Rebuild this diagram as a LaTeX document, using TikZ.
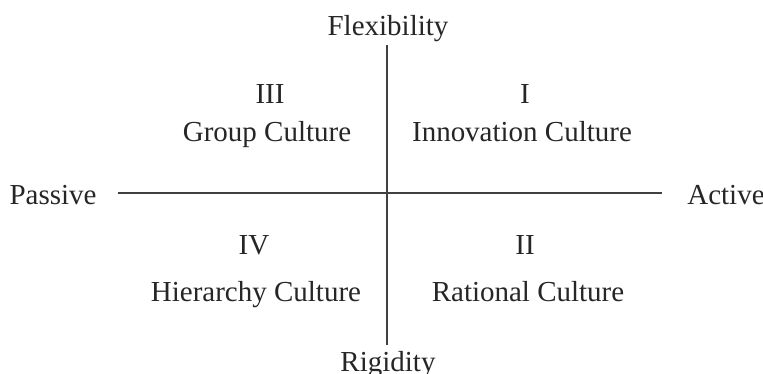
\documentclass[tikz,border=0pt]{standalone}
\usepackage{fontspec}
\setmainfont{Liberation Serif}
\begin{document}
\begin{tikzpicture}[x=0.02cm,y=-0.02cm,
                    lblND/.style={anchor=base,
                                  inner sep=0pt,
                                  text=black!85,
                                  font=\fontsize{16.5}{20}\selectfont},
                    axis/.style={draw=black!75,
                                 line width=0.6pt}]
            \useasboundingbox (0,0) rectangle (763,374);
            \node[lblND](flex) at (388,36)  {Flexibility};
            \node[lblND](rigid) at (388,372) {Rigidity};
            \node[lblND](pass) at (53,205)  {Passive};
            \node[lblND](act) at (726,205)  {Active};
            \node[lblND](n3) at (270,104) {III};
            \node[lblND](q3) at (267,142) {Group Culture};
            \node[lblND](n1) at (525,104) {I};
            \node[lblND](q1) at (522,142) {Innovation Culture};
            \node[lblND](n4) at (254,255) {IV};
            \node[lblND](q4) at (256,302) {Hierarchy Culture};
            \node[lblND](n2) at (525,255) {II};
            \node[lblND](q2) at (528,302) {Rational Culture};
            \coordinate (top) at (387,45);
            \coordinate (bot) at (387,345);
            \coordinate (left) at (118,193);
            \coordinate (right) at (662,193);
            \path
                (top) edge [axis] (bot)
                (left) edge [axis] (right)
                ;
        \end{tikzpicture}
\end{document}
